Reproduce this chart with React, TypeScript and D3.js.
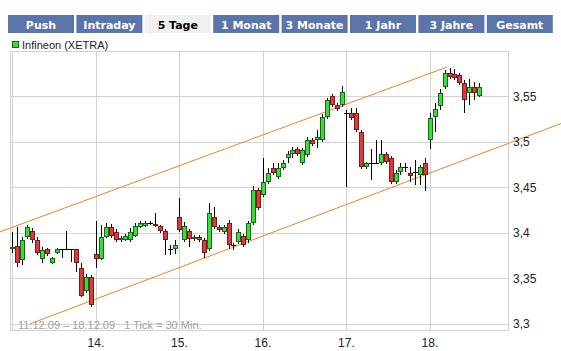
import * as d3 from "d3"

// tabs above the chart
const tabs = ["Push", "Intraday", "5 Tage", "1 Monat", "3 Monate", "1 Jahr", "3 Jahre", "Gesamt"]
const activeTab = "5 Tage"

// 30 min candles per trading day: [open, high, low, close]
const day11 = [
  [3.382, 3.401, 3.378, 3.384], [3.386, 3.406, 3.362, 3.367], [3.37, 3.395, 3.365, 3.392],
  [3.395, 3.409, 3.393, 3.406], [3.402, 3.405, 3.389, 3.392], [3.392, 3.395, 3.376, 3.378],
  [3.371, 3.384, 3.367, 3.381], [3.382, 3.383, 3.375, 3.377], [3.367, 3.373, 3.366, 3.372],
  [3.378, 3.383, 3.377, 3.382], [3.382, 3.382, 3.372, 3.382], [3.382, 3.402, 3.382, 3.382],
  [3.382, 3.382, 3.368, 3.382], [3.382, 3.382, 3.357, 3.367], [3.361, 3.367, 3.329, 3.331],
  [3.336, 3.355, 3.334, 3.352], [3.352, 3.354, 3.319, 3.321],
]
const day14 = [
  [3.377, 3.413, 3.361, 3.371], [3.371, 3.409, 3.37, 3.395], [3.395, 3.411, 3.394, 3.406],
  [3.406, 3.41, 3.394, 3.396], [3.401, 3.404, 3.39, 3.392], [3.392, 3.396, 3.39, 3.394],
  [3.392, 3.399, 3.391, 3.396], [3.392, 3.405, 3.39, 3.401], [3.396, 3.411, 3.395, 3.407],
  [3.406, 3.413, 3.405, 3.411], [3.407, 3.413, 3.406, 3.411], [3.411, 3.413, 3.409, 3.41],
  [3.41, 3.422, 3.406, 3.407], [3.407, 3.409, 3.4, 3.402], [3.402, 3.404, 3.376, 3.392],
  [3.382, 3.387, 3.376, 3.382], [3.382, 3.392, 3.377, 3.387],
]
const day15 = [
  [3.417, 3.438, 3.401, 3.403], [3.392, 3.412, 3.39, 3.407], [3.402, 3.404, 3.384, 3.393],
  [3.393, 3.398, 3.391, 3.395], [3.395, 3.398, 3.39, 3.392], [3.392, 3.394, 3.372, 3.378],
  [3.382, 3.433, 3.38, 3.422], [3.417, 3.428, 3.404, 3.406], [3.406, 3.409, 3.401, 3.403],
  [3.401, 3.409, 3.399, 3.406], [3.411, 3.414, 3.382, 3.387], [3.387, 3.389, 3.381, 3.387],
  [3.39, 3.404, 3.388, 3.401], [3.396, 3.399, 3.384, 3.387], [3.392, 3.413, 3.389, 3.411],
  [3.411, 3.451, 3.409, 3.447], [3.447, 3.449, 3.425, 3.427],
]
const day16 = [
  [3.441, 3.482, 3.439, 3.456], [3.456, 3.471, 3.454, 3.466], [3.471, 3.477, 3.463, 3.466],
  [3.461, 3.477, 3.459, 3.471], [3.471, 3.48, 3.469, 3.477], [3.482, 3.49, 3.477, 3.486],
  [3.486, 3.494, 3.482, 3.491], [3.492, 3.494, 3.484, 3.486], [3.477, 3.493, 3.474, 3.491],
  [3.485, 3.505, 3.483, 3.502], [3.502, 3.504, 3.495, 3.497], [3.502, 3.513, 3.493, 3.505],
  [3.502, 3.53, 3.5, 3.527], [3.527, 3.548, 3.525, 3.546], [3.55, 3.552, 3.538, 3.54],
  [3.54, 3.542, 3.534, 3.536], [3.54, 3.561, 3.538, 3.555],
]
const day17 = [
  [3.532, 3.535, 3.45, 3.532], [3.532, 3.537, 3.524, 3.526], [3.531, 3.537, 3.511, 3.513],
  [3.511, 3.513, 3.47, 3.472], [3.472, 3.478, 3.47, 3.477], [3.477, 3.492, 3.458, 3.477],
  [3.477, 3.502, 3.477, 3.477], [3.477, 3.502, 3.474, 3.486], [3.486, 3.489, 3.476, 3.478],
  [3.482, 3.484, 3.454, 3.456], [3.456, 3.469, 3.454, 3.466], [3.467, 3.477, 3.463, 3.472],
  [3.472, 3.477, 3.467, 3.472], [3.466, 3.472, 3.456, 3.462], [3.467, 3.48, 3.452, 3.467],
  [3.463, 3.474, 3.452, 3.472], [3.477, 3.482, 3.446, 3.463],
]
const day18 = [
  [3.502, 3.531, 3.492, 3.526], [3.527, 3.542, 3.511, 3.536], [3.539, 3.558, 3.535, 3.554],
  [3.56, 3.579, 3.558, 3.575], [3.575, 3.581, 3.569, 3.571], [3.574, 3.58, 3.568, 3.57],
  [3.573, 3.575, 3.562, 3.564], [3.564, 3.568, 3.531, 3.546], [3.554, 3.569, 3.54, 3.56],
  [3.56, 3.566, 3.546, 3.554], [3.55, 3.564, 3.549, 3.56],
]
const days = [day11, day14, day15, day16, day17, day18]
const dayLabels = ["", "14.", "15.", "16.", "17.", "18."]
const ticksPerDay = 17

const yTicks = [3.3, 3.35, 3.4, 3.45, 3.5, 3.55]

// trend channel, as [candle index, price]
const upperChannel = [[-2.55, 3.401], [88.5, 3.582]]
const lowerChannel = [[3.56, 3.3], [111.7, 3.52]]

const W = 561
const H = 351
const plot = { left: 11, right: 509, top: 52, bottom: 331 }

const GREEN = "#3bdc3b"
const GREEN_DARK = "#17661a"
const RED = "#dd3b3b"
const RED_DARK = "#7a1b1b"
const GRID = "#d2d2d2"
const FONT = "Tahoma, 'Liberation Sans', Arial, sans-serif"

export default function App() {
  const x = d3.scaleLinear().domain([-0.3, 101.1]).range([plot.left, plot.right])
  const y = d3.scaleLinear().domain([3.2922, 3.5985]).range([plot.bottom, plot.top])

  const candles = days.flatMap((day, d) =>
    day.map(([o, h, l, c], i) => ({ idx: d * ticksPerDay + i, o, h, l, c }))
  )
  const line = d3
    .line<number[]>()
    .x((d) => x(d[0]))
    .y((d) => y(d[1]))

  const tabStep = 68.4
  const tabW = 66
  const px = (v: number) => Math.round(v) + 0.5

  return (
    <svg
      width={W}
      height={H}
      style={{ position: "absolute", left: 0, top: 0, background: "#fff" }}
      fontFamily={FONT}
    >
      {/* tabs */}
      {tabs.map((t, i) => {
        const tx = 8 + i * tabStep
        const active = t === activeTab
        return (
          <g key={t}>
            <rect x={tx} y={15} width={tabW} height={18} fill={active ? "#f0f0f0" : "#5b74aa"} />
            <text
              x={tx + tabW / 2}
              y={28.5}
              textAnchor="middle"
              fontSize={11}
              fontFamily="'DejaVu Sans', Verdana, sans-serif"
              fontWeight="bold"
              fill={active ? "#000" : "#fff"}
            >
              {t}
            </text>
          </g>
        )
      })}

      {/* legend */}
      <rect x={12.5} y={41.5} width={6} height={6} fill={GREEN} stroke={GREEN_DARK} />
      <text x={22} y={49} fontSize={11} fill="#222">
        Infineon (XETRA)
      </text>

      {/* grid */}
      {yTicks.map((t) => (
        <line key={t} x1={plot.left} x2={plot.right} y1={px(y(t))} y2={px(y(t))} stroke={GRID} />
      ))}
      {days.map((_, d) => (
        <line
          key={d}
          x1={px(x(d * ticksPerDay))}
          x2={px(x(d * ticksPerDay))}
          y1={plot.top}
          y2={plot.bottom}
          stroke={GRID}
        />
      ))}
      <rect
        x={plot.left - 0.5}
        y={plot.top - 0.5}
        width={plot.right - plot.left}
        height={plot.bottom - plot.top}
        fill="none"
        stroke={GRID}
      />

      {/* footer */}
      <text x={18} y={329} fontSize={11} fill="#a0a0a0">
        11.12.09 – 18.12.09{"\u00a0\u00a0\u00a0"}1 Tick = 30 Min.
      </text>

      {/* channel */}
      <path d={line(upperChannel) ?? ""} fill="none" stroke="#ef8424" strokeWidth={1} />
      <path d={line(lowerChannel) ?? ""} fill="none" stroke="#ef8424" strokeWidth={1} />

      {/* candles */}
      {candles.map((k) => {
        const cx = px(x(k.idx))
        const up = k.c >= k.o
        const top = Math.round(y(Math.max(k.o, k.c)))
        const bot = Math.round(y(Math.min(k.o, k.c)))
        const flat = bot - top < 2
        return (
          <g key={k.idx}>
            <line x1={cx} x2={cx} y1={Math.round(y(k.h))} y2={Math.round(y(k.l))} stroke="#000" />
            {flat ? (
              <line x1={cx - 2.5} x2={cx + 2.5} y1={top + 0.5} y2={top + 0.5} stroke="#000" />
            ) : (
              <rect
                x={cx - 2}
                y={top + 0.5}
                width={4}
                height={bot - top - 1}
                fill={up ? GREEN : RED}
                stroke={up ? GREEN_DARK : RED_DARK}
              />
            )}
          </g>
        )
      })}

      {/* axes labels */}
      {yTicks.map((t) => (
        <text key={t} x={513} y={y(t) + 4.5} fontSize={12} fill="#222">
          {d3.format(".2~f")(t).replace(".", ",")}
        </text>
      ))}
      {dayLabels.map((l, d) =>
        l ? (
          <text key={d} x={x(d * ticksPerDay)} y={347} fontSize={12} textAnchor="middle" fill="#222">
            {l}
          </text>
        ) : null
      )}
    </svg>
  )
}
